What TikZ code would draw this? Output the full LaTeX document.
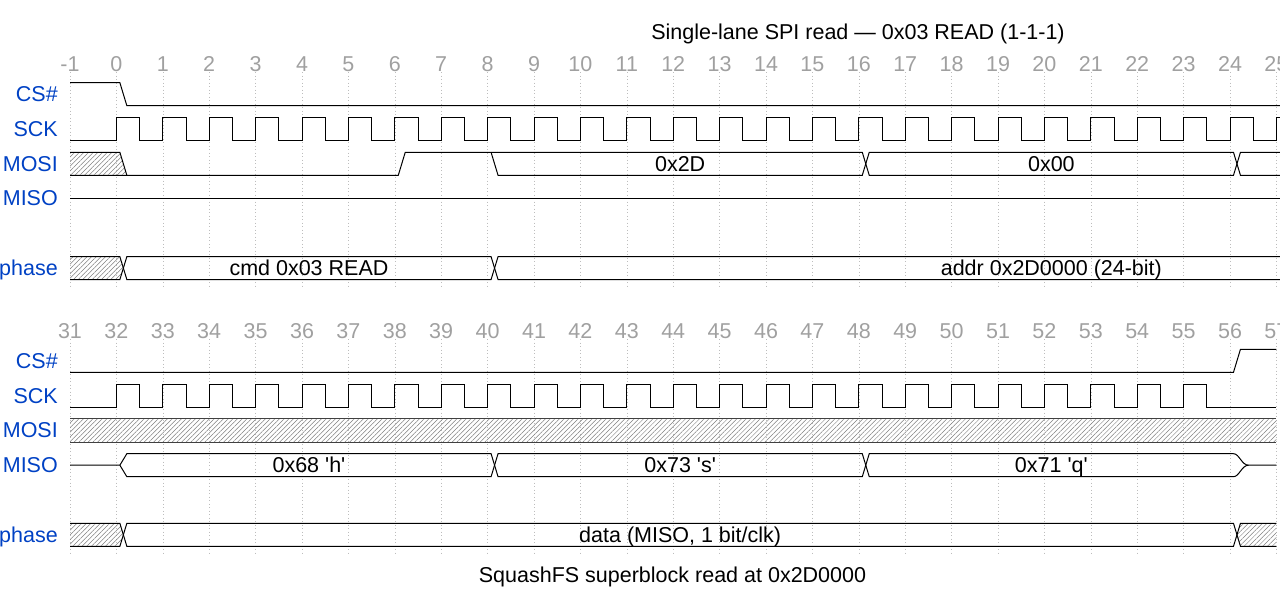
\documentclass[tikz,border=0pt]{standalone}
\usepackage{fontspec}
\setmainfont{Liberation Sans}
\usetikzlibrary{patterns.meta}
\definecolor{sig}{HTML}{0041C4}
\definecolor{tickc}{HTML}{A0A0A0}
\definecolor{hat}{HTML}{808080}
\begin{document}
\begin{tikzpicture}[x=1pt,y=-1pt,
  font=\fontsize{21.5}{24}\selectfont,
  wave/.style={line width=1pt, line join=miter, black},
  hborder/.style={line width=1pt, black!75},
  gridln/.style={draw=tickc!70, line width=0.6pt, dash pattern=on 1pt off 2.5pt},
  hatch/.style={pattern={Lines[angle=45,distance=3.3pt,line width=0.5pt]}, pattern color=hat},
  siglab/.style={anchor=base east, text=sig, inner sep=0pt},
  ticklab/.style={anchor=base, text=tickc, inner sep=0pt},
  datalab/.style={anchor=base, inner sep=0pt}]
\useasboundingbox (0,0) rectangle (1280,605);

% title and caption
\node[datalab] (title) at (858,39.3) {Single-lane SPI read — 0x03 READ (1-1-1)};
\node[datalab] (caption) at (672.5,582) {SquashFS superblock read at 0x2D0000};

% signal names, top
\node[siglab] (l1cs)   at (58,101.7) {CS\#};
\node[siglab] (l1sck)  at (58,136.2) {SCK};
\node[siglab] (l1mosi) at (58,171.3) {MOSI};
\node[siglab] (l1miso) at (58,205.5) {MISO};
\node[siglab] (l1ph)   at (58,275.5) {phase};
% signal names, bottom
\node[siglab] (l2cs)   at (58,368.3) {CS\#};
\node[siglab] (l2sck)  at (58,403.3) {SCK};
\node[siglab] (l2mosi) at (58,437.8) {MOSI};
\node[siglab] (l2miso) at (58,472.7) {MISO};
\node[siglab] (l2ph)   at (58,542.3) {phase};

% ---------------- top diagram ----------------
\begin{scope}[xshift=116.4pt, x=46.4pt]
  \foreach \t in {-1,...,25} {
    \draw[gridln] (\t,72) -- (\t,286);
    \node[ticklab] (ta\t) at (\t,71.7) {\t};
  }
  % CS#
  \draw[wave] (-1,82.7) -- (0.075,82.7) -- (0.225,105.7) -- (25.1,105.7);
  % SCK
  \draw[wave] (-1,140) \foreach \k in {0,...,24}{ -- (\k,140) -- (\k,117.3) -- (\k+0.5,117.3) -- (\k+0.5,140)} -- (25,140) -- (25,117.3) -- (25.1,117.3);
  % MOSI
  \fill[hatch] (-1,152.3) -- (0.075,152.3) -- (0.225,175.3) -- (-1,175.3) -- cycle;
  \draw[wave] (-1,152.3) -- (0.075,152.3) -- (0.225,175.3);
  \draw[wave] (-1,175.3) -- (6.075,175.3) -- (6.225,152.3) -- (16.075,152.3) -- (16.225,175.3) -- (24.075,175.3) -- (24.225,152.3) -- (25.1,152.3);
  \draw[wave] (8.075,152.3) -- (8.225,175.3) -- (16.075,175.3) -- (16.225,152.3) -- (24.075,152.3) -- (24.225,175.3) -- (25.1,175.3);
  \node[datalab] (d2d) at (12.15,171.3) {0x2D};
  \node[datalab] (d00) at (20.15,171.3) {0x00};
  % MISO
  \draw[wave] (-1,198) -- (25.1,198);
  % phase
  \fill[hatch] (-1,256.7) -- (0.075,256.7) -- (0.15,268.1) -- (0.075,279.5) -- (-1,279.5) -- cycle;
  \draw[wave] (-1,256.7) -- (0.075,256.7) -- (0.225,279.5) -- (8.075,279.5) -- (8.225,256.7) -- (25.1,256.7);
  \draw[wave] (-1,279.5) -- (0.075,279.5) -- (0.225,256.7) -- (8.075,256.7) -- (8.225,279.5) -- (25.1,279.5);
  \node[datalab] (pcmd) at (4.15,275.6) {cmd 0x03 READ};
  \node[datalab] (paddr) at (20.15,275.6) {addr 0x2D0000 (24-bit)};
\end{scope}

% ---------------- bottom diagram ----------------
\begin{scope}[xshift=-1368.4pt, x=46.4pt]
  \foreach \t in {31,...,57} {
    \draw[gridln] (\t,339) -- (\t,553);
    \node[ticklab] (tb\t) at (\t,338.4) {\t};
  }
  % CS#
  \draw[wave] (31,372.3) -- (56.075,372.3) -- (56.225,349.3) -- (57,349.3);
  % SCK
  \draw[wave] (31,407.3) \foreach \k in {32,...,55}{ -- (\k,407.3) -- (\k,384.3) -- (\k+0.5,384.3) -- (\k+0.5,407.3)} -- (57,407.3);
  % MOSI
  \fill[hatch] (31,418.7) rectangle (57,442);
  \draw[hborder] (31,418.7) -- (57,418.7) (31,442) -- (57,442);
  % MISO
  \draw[wave] (31,465.2) -- (32.075,465.2) -- (32.225,453.7) -- (40.075,453.7) -- (40.225,476.7) -- (48.075,476.7) -- (48.225,453.7) -- (56.075,453.7) .. controls (56.2,453.7) and (56.25,465.2) .. (56.4,465.2) -- (57,465.2);
  \draw[wave] (32.075,465.2) -- (32.225,476.7) -- (40.075,476.7) -- (40.225,453.7) -- (48.075,453.7) -- (48.225,476.7) -- (56.075,476.7) .. controls (56.2,476.7) and (56.25,465.2) .. (56.4,465.2);
  \node[datalab] (mh) at (36.15,472.7) {0x68 \textquotesingle h\textquotesingle};
  \node[datalab] (ms) at (44.15,472.7) {0x73 \textquotesingle s\textquotesingle};
  \node[datalab] (mq) at (52.15,472.7) {0x71 \textquotesingle q\textquotesingle};
  % phase
  \fill[hatch] (31,523.3) -- (32.075,523.3) -- (32.15,534.8) -- (32.075,546.3) -- (31,546.3) -- cycle;
  \fill[hatch] (57,523.3) -- (56.225,523.3) -- (56.15,534.8) -- (56.225,546.3) -- (57,546.3) -- cycle;
  \draw[wave] (31,523.3) -- (32.075,523.3) -- (32.225,546.3) -- (56.075,546.3) -- (56.225,523.3) -- (57,523.3);
  \draw[wave] (31,546.3) -- (32.075,546.3) -- (32.225,523.3) -- (56.075,523.3) -- (56.225,546.3) -- (57,546.3);
  \node[datalab] (pdata) at (44.15,542.3) {data (MISO, 1 bit/clk)};
\end{scope}
\end{tikzpicture}
\end{document}
